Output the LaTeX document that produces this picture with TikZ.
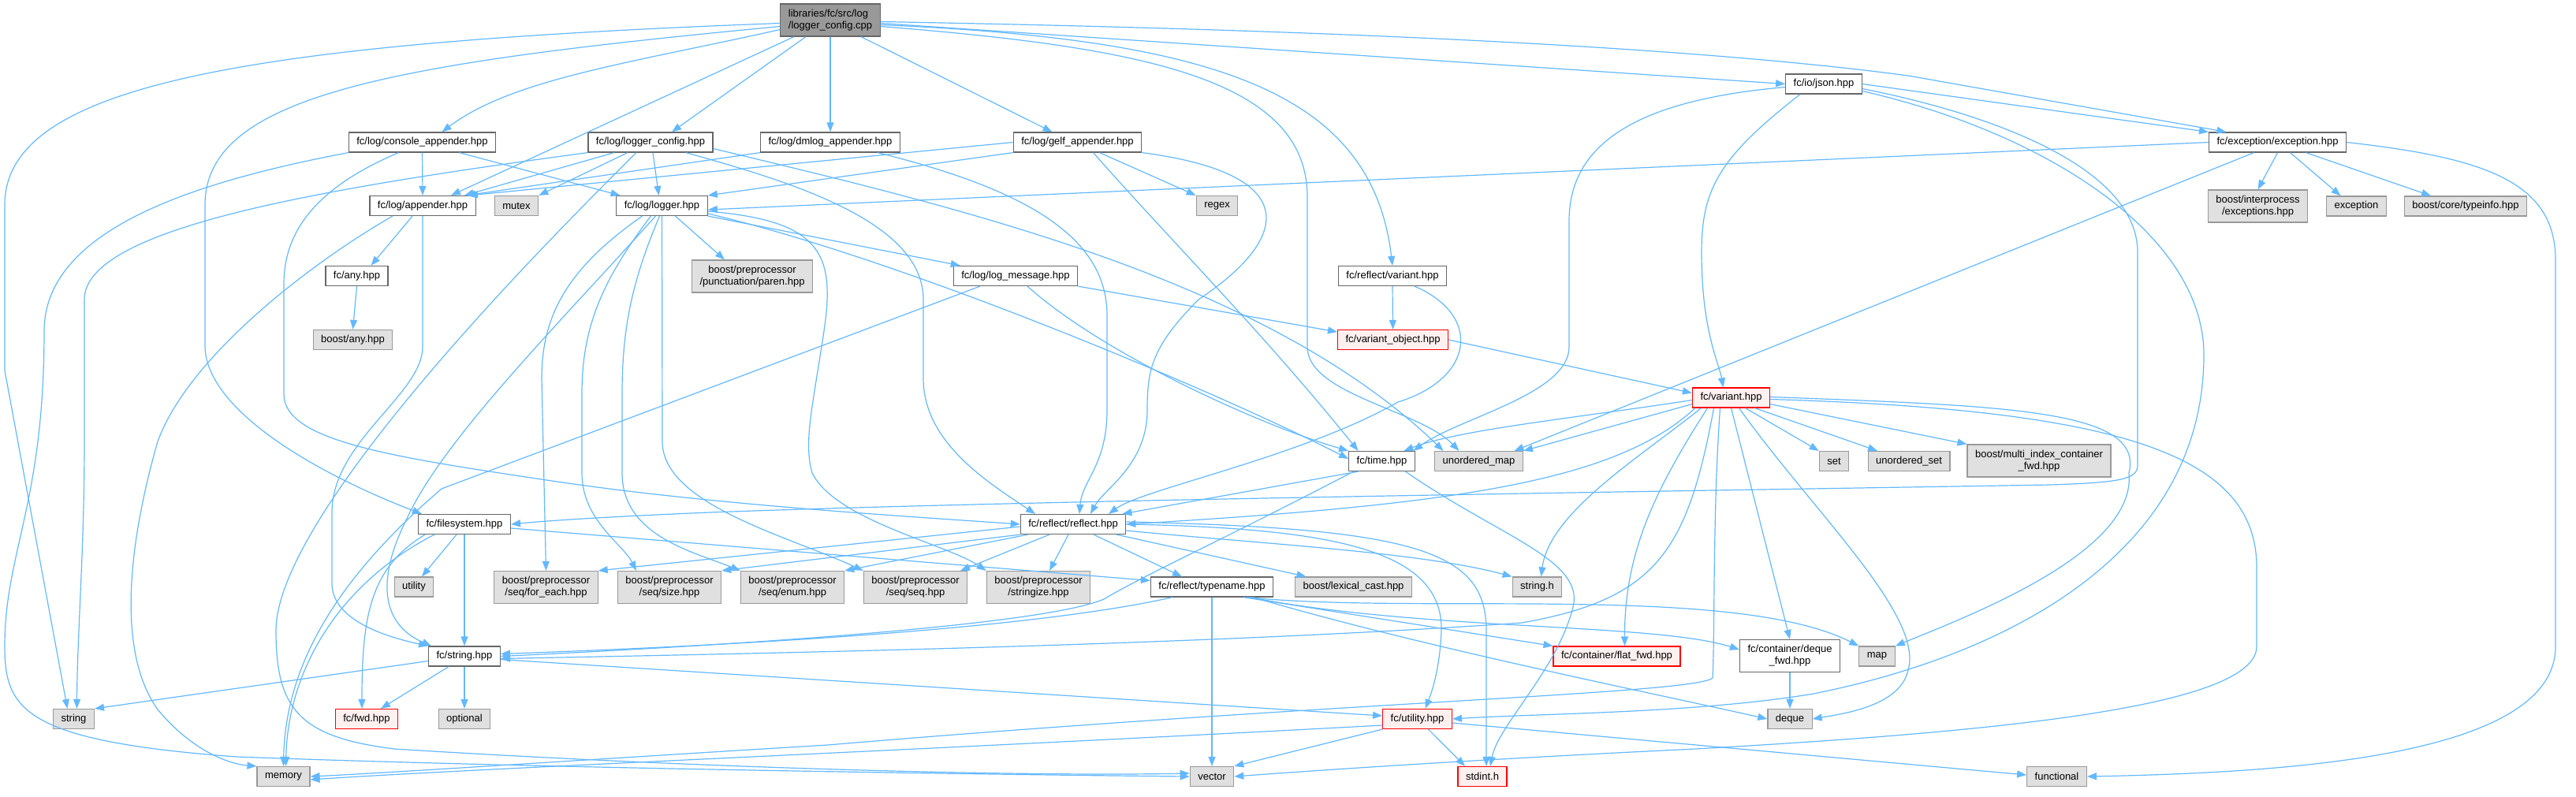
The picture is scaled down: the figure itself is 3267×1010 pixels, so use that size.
\documentclass[tikz,border=0pt]{standalone}
\usepackage{fontspec}
\setmainfont{Liberation Sans}
\usepackage{tikz}
\usetikzlibrary{arrows.meta,positioning}
\definecolor{edgeblue}{RGB}{99,184,255}
\definecolor{docline}{RGB}{102,102,102}
\definecolor{extline}{RGB}{153,153,153}
\definecolor{extfill}{RGB}{224,224,224}
\definecolor{truncfill}{RGB}{255,240,240}

\begin{document}
\begin{tikzpicture}[
    x=1pt, y=-1pt,
    fbox/.style={rectangle, line width=1.2pt, inner xsep=10pt, inner ysep=0pt, minimum height=25pt, align=center, font=\fontsize{13pt}{15pt}\selectfont},
    doc/.style={fbox, draw=docline, fill=white},
    ext/.style={fbox, draw=extline, fill=extfill},
    trunc/.style={fbox, draw=red, fill=truncfill},
    rootbox/.style={fbox, draw=docline, fill=extline, align=left},
    tall/.style={minimum height=41pt},
    arr/.style={-{Triangle[length=12pt,width=9pt]}, draw=edgeblue, line width=1.2pt}
  ]
  \useasboundingbox (0,0) rectangle (3267,1010);

  \node[rootbox, tall] (root) at (1053,25.5) {libraries/fc/src/log\\/logger\_config.cpp};
  \node[doc] (console) at (535.5,180.5) {fc/log/console\_appender.hpp};
  \node[doc] (logcfg) at (825,180.5) {fc/log/logger\_config.hpp};
  \node[doc] (dmlog) at (1053,180.5) {fc/log/dmlog\_appender.hpp};
  \node[doc] (gelf) at (1366.5,180.5) {fc/log/gelf\_appender.hpp};
  \node[doc] (json) at (2313,106.5) {fc/io/json.hpp};
  \node[doc] (exception) at (2888.5,180.5) {fc/exception/exception.hpp};
  \node[doc] (appender) at (536,261) {fc/log/appender.hpp};
  \node[ext] (stdmutex) at (655,261) {mutex};
  \node[doc] (logger) at (839.5,261) {fc/log/logger.hpp};
  \node[ext] (stdregex) at (1543.5,261) {regex};
  \node[ext, tall] (interproc) at (2863.5,261.5) {boost/interprocess\\/exceptions.hpp};
  \node[ext] (stdexcept) at (2988.5,261.5) {exception};
  \node[ext] (typeinfo) at (3127,261.5) {boost/core/typeinfo.hpp};
  \node[doc] (anyhpp) at (452.5,350) {fc/any.hpp};
  \node[ext, tall] (paren) at (954,350.5) {boost/preprocessor\\/punctuation/paren.hpp};
  \node[doc] (logmsg) at (1288,350) {fc/log/log\_message.hpp};
  \node[doc] (rvariant) at (1766,350) {fc/reflect/variant.hpp};
  \node[ext] (boostany) at (447.5,431) {boost/any.hpp};
  \node[trunc] (varobj) at (1766.5,431) {fc/variant\_object.hpp};
  \node[trunc] (variant) at (2195.5,504.5) {fc/variant.hpp};
  \node[doc] (fctime) at (1752.5,585) {fc/time.hpp};
  \node[ext] (umap) at (1875.5,585) {unordered\_map};
  \node[ext] (stdset) at (2326,585) {set};
  \node[ext] (uset) at (2421,585) {unordered\_set};
  \node[ext, tall] (multi) at (2586,584.5) {boost/multi\_index\_container\\\_fwd.hpp};
  \node[doc] (filesystem) at (589,665) {fc/filesystem.hpp};
  \node[doc] (reflect) at (1361,665) {fc/reflect/reflect.hpp};
  \node[ext] (stdutil) at (525,744.5) {utility};
  \node[ext, tall] (foreach) at (692.5,745) {boost/preprocessor\\/seq/for\_each.hpp};
  \node[ext, tall] (seqsize) at (849,745) {boost/preprocessor\\/seq/size.hpp};
  \node[ext, tall] (seqenum) at (1005,745) {boost/preprocessor\\/seq/enum.hpp};
  \node[ext, tall] (seqseq) at (1161,745) {boost/preprocessor\\/seq/seq.hpp};
  \node[ext, tall] (stringize) at (1317,745) {boost/preprocessor\\/stringize.hpp};
  \node[doc] (typenm) at (1537,744.5) {fc/reflect/typename.hpp};
  \node[ext] (lexcast) at (1716.5,744.5) {boost/lexical\_cast.hpp};
  \node[ext] (stringh) at (1949.5,744.5) {string.h};
  \node[doc] (fcstring) at (589,832.5) {fc/string.hpp};
  \node[trunc] (flatfwd) at (2050.5,832.5) {fc/container/flat\_fwd.hpp};
  \node[doc, tall] (dequefwd) at (2270,832) {fc/container/deque\\\_fwd.hpp};
  \node[ext] (stdmap) at (2380.5,832.5) {map};
  \node[ext] (stdstring) at (93.5,912) {string};
  \node[trunc] (fwd) at (465,912) {fc/fwd.hpp};
  \node[ext] (stdoptional) at (589,912) {optional};
  \node[trunc] (fcutil) at (1797.5,912) {fc/utility.hpp};
  \node[ext] (stddeque) at (2270,912) {deque};
  \node[ext] (stdmemory) at (359.5,985) {memory};
  \node[ext] (stdvector) at (1537,985) {vector};
  \node[trunc] (stdint) at (1880,985) {stdint.h};
  \node[ext] (stdfunc) at (2608.5,985) {functional};

  \draw[arr] ([yshift=-4pt]root.west) .. controls (300,55) and (6,110) .. (6,260) -- (6,470) -- ([xshift=-8pt]stdstring.north);
  \draw[arr] ([yshift=-8pt]root.west) .. controls (500,80) and (260,120) .. (260,260) -- (260,440) .. controls (262,520) and (400,600) .. ([xshift=5pt]filesystem.north west);
  \draw[arr] ([yshift=-12pt]root.west) .. controls (800,80) and (650,100) .. ([xshift=25pt]console.north);
  \draw[arr] ([xshift=-46pt]root.south) -- ([xshift=36pt]appender.north);
  \draw[arr] ([xshift=-31pt]root.south) -- ([xshift=27pt]logcfg.north);
  \draw[arr] (root.south) -- (dmlog.north);
  \draw[arr] ([xshift=39pt]root.south) -- ([xshift=-32pt]gelf.north);
  \draw[arr] ([yshift=-8pt]root.east) .. controls (1450,60) and (1658,100) .. (1658,250) -- (1658,440) .. controls (1658,500) and (1800,520) .. ([xshift=-25pt]umap.north);
  \draw[arr] ([yshift=-6pt]root.east) .. controls (1550,50) and (1740,120) .. (rvariant.north);
  \draw[arr] ([yshift=-4pt]root.east) -- (json.west);
  \draw[arr] ([yshift=-2pt]root.east) .. controls (1700,38) and (2150,60) .. (2420,96) -- ([xshift=-65pt]exception.north);

  \draw[arr] (console.south) -- (appender.north);
  \draw[arr] ([xshift=47pt]console.south) -- ([xshift=-53pt]logger.north);
  \draw[arr] (console.south west) .. controls (250,230) and (56,290) .. (56,420) .. controls (56,640) and (6,700) .. (6,820) .. controls (6,900) and (30,940) .. (300,960) .. controls (700,975) and (1300,983) .. (stdvector.west);
  \draw[arr] ([xshift=-30pt]console.south) .. controls (420,230) and (360,280) .. (360,360) -- (360,500) .. controls (360,560) and (500,580) .. (700,610) .. controls (900,640) and (1150,655) .. (reflect.west);

  \draw[arr] (logcfg.south west) .. controls (400,240) and (107,290) .. (107,380) -- (107,560) .. controls (107,700) and (98,800) .. ([xshift=4pt]stdstring.north);
  \draw[arr] ([xshift=-46pt]logcfg.south) -- ([xshift=53pt]appender.north);
  \draw[arr] ([xshift=-29pt]logcfg.south) -- (stdmutex.north east);
  \draw[arr] ([xshift=-18pt]logcfg.south) .. controls (700,300) and (350,650) .. (350,800) .. controls (350,900) and (380,935) .. (500,950) .. controls (900,975) and (1300,985) .. ([yshift=4pt]stdvector.west);
  \draw[arr] ([xshift=3pt]logcfg.south) -- ([xshift=-4pt]logger.north);
  \draw[arr] ([xshift=45pt]logcfg.south) .. controls (1000,230) and (1171,280) .. (1171,380) -- (1171,480) .. controls (1171,560) and (1250,610) .. ([xshift=-48pt]reflect.north);
  \draw[arr] ([yshift=-8pt]logcfg.east) .. controls (1200,260) and (1600,350) .. ([xshift=-45pt]umap.north);

  \draw[arr] (dmlog.south west) -- ([xshift=55pt]appender.north);
  \draw[arr] ([xshift=60pt]dmlog.south) .. controls (1300,240) and (1404,300) .. (1404,400) -- (1404,520) .. controls (1404,590) and (1372,610) .. ([xshift=8pt]reflect.north);

  \draw[arr] (gelf.west) -- ([xshift=58pt]appender.north);
  \draw[arr] (gelf.south west) -- (logger.north east);
  \draw[arr] ([xshift=28pt]gelf.south) -- (stdregex.north west);
  \draw[arr] ([xshift=20pt]gelf.south) .. controls (1480,300) and (1600,420) .. ([xshift=-30pt]fctime.north);
  \draw[arr] (gelf.south east) .. controls (1650,220) and (1640,300) .. (1520,380) .. controls (1460,440) and (1455,470) .. (1455,520) .. controls (1455,590) and (1400,620) .. ([xshift=22pt]reflect.north);

  \draw[arr] (json.east) -- (exception.north west);
  \draw[arr] ([xshift=-30pt]json.south) .. controls (2180,200) and (2158,240) .. (2158,320) .. controls (2158,420) and (2180,460) .. ([xshift=-10pt]variant.north);
  \draw[arr] ([yshift=-4pt]json.west) .. controls (2100,125) and (1990,170) .. (1990,280) -- (1990,440) .. controls (1990,500) and (1850,530) .. ([xshift=40pt]fctime.north);
  \draw[arr] ([yshift=-6pt]json.east) .. controls (2550,150) and (2711,220) .. (2711,320) -- (2711,590) .. controls (2711,608) and (2690,612) .. (2600,615) .. controls (2000,625) and (1300,635) .. (900,650) .. controls (780,655) and (700,660) .. (filesystem.east);
  \draw[arr] ([yshift=-9pt]json.east) .. controls (2600,170) and (2795,300) .. (2795,450) .. controls (2795,700) and (2550,830) .. (2300,880) .. controls (2150,905) and (1950,905) .. (fcutil.east);

  \draw[arr] (exception.west) -- ([yshift=-5pt]logger.east);
  \draw[arr] ([xshift=-30pt]exception.south) -- ([xshift=45pt]umap.north);
  \draw[arr] (exception.south) -- (interproc.north);
  \draw[arr] ([xshift=16pt]exception.south) -- ([xshift=-20pt]stdexcept.north);
  \draw[arr] ([xshift=36pt]exception.south) -- ([xshift=-44pt]typeinfo.north);
  \draw[arr] (exception.east) .. controls (3150,200) and (3241,230) .. (3241,330) -- (3241,820) .. controls (3241,960) and (2900,980) .. (stdfunc.east);

  \draw[arr] (rvariant.south) -- (varobj.north);
  \draw[arr] ([xshift=28pt]rvariant.south) .. controls (1880,400) and (1870,480) .. (1773,510) .. controls (1650,580) and (1450,620) .. ([xshift=45pt]reflect.north);

  \draw[arr] ([xshift=-13pt]appender.south) -- ([xshift=18pt]anyhpp.north);
  \draw[arr] ([xshift=-38pt]appender.south) .. controls (400,330) and (240,450) .. (200,560) .. controls (160,700) and (150,830) .. (200,900) .. controls (250,960) and (300,970) .. (stdmemory.north west);
  \draw[arr] (appender.south) -- (536,440) .. controls (536,500) and (421,560) .. (421,650) -- (421,740) .. controls (421,790) and (500,810) .. (fcstring.north west);
  \draw[arr] (anyhpp.south) -- (boostany.north);

  \draw[arr] ([xshift=17pt]logger.south) -- ([xshift=-35pt]paren.north);
  \draw[arr] (logger.south east) -- ([xshift=9pt]logmsg.north west);
  \draw[arr] ([yshift=-10pt]logger.east) .. controls (1150,330) and (1550,500) .. ([yshift=3pt]fctime.west);
  \draw[arr] ([yshift=-7pt]logger.east) .. controls (1040,280) and (1060,320) .. (1045,420) .. controls (1030,520) and (1019,560) .. (1030,600) .. controls (1060,660) and (1200,690) .. (stringize.north west);
  \draw[arr] ([xshift=-25pt]logger.south) .. controls (720,340) and (687,400) .. (687,480) -- (foreach.north);
  \draw[arr] ([xshift=-14pt]logger.south) .. controls (760,360) and (738,420) .. (738,500) -- (738,600) .. controls (738,660) and (790,690) .. ([xshift=-42pt]seqsize.north);
  \draw[arr] ([xshift=-3pt]logger.south) .. controls (800,360) and (789,420) .. (789,500) -- (789,600) .. controls (789,680) and (880,700) .. (seqenum.north west);
  \draw[arr] (logger.south) -- (840,560) .. controls (840,640) and (1000,680) .. (seqseq.north west);
  \draw[arr] ([xshift=-8pt]logger.south) .. controls (700,420) and (560,560) .. (515,660) .. controls (480,730) and (480,790) .. ([xshift=-42pt]fcstring.north);

  \draw[arr] (logmsg.south east) -- ([yshift=10pt]varobj.west);
  \draw[arr] ([xshift=15pt]logmsg.south) .. controls (1400,450) and (1600,540) .. (fctime.north west);
  \draw[arr] ([xshift=-45pt]logmsg.south) -- (560,620) .. controls (420,740) and (362,850) .. (stdmemory.north);

  \draw[arr] (varobj.east) -- ([yshift=6pt]variant.west);

  \draw[arr] ([yshift=-3pt]variant.west) .. controls (2000,530) and (1850,545) .. ([xshift=28pt]fctime.north);
  \draw[arr] ([yshift=5pt]variant.south west) -- (umap.north east);
  \draw[arr] ([xshift=4pt]variant.south west) .. controls (2050,610) and (1850,640) .. (reflect.east);
  \draw[arr] ([xshift=-38pt]variant.south) .. controls (2080,580) and (1965,650) .. ([xshift=5pt]stringh.north);
  \draw[arr] ([xshift=-30pt]variant.south) .. controls (2100,620) and (2060,700) .. ([xshift=10pt]flatfwd.north);
  \draw[arr] ([xshift=-22pt]variant.south) .. controls (2140,700) and (2100,760) .. (1930,790) .. controls (1500,820) and (900,830) .. ([yshift=-3pt]fcstring.east);
  \draw[arr] ([xshift=-14pt]variant.south) .. controls (2172,650) and (2175,800) .. (2172,860) .. controls (2150,880) and (1700,890) .. (1050,945) .. controls (800,960) and (500,980) .. (stdmemory.east);
  \draw[arr] (variant.south) -- (dequefwd.north);
  \draw[arr] ([xshift=10pt]variant.south) .. controls (2300,650) and (2440,780) .. (2420,850) .. controls (2410,895) and (2340,905) .. (stddeque.east);
  \draw[arr] ([xshift=18pt]variant.south) -- (stdset.north west);
  \draw[arr] ([xshift=30pt]variant.south) -- ([xshift=-40pt]uset.north);
  \draw[arr] ([yshift=5pt]variant.south east) -- (multi.north west);
  \draw[arr] ([yshift=1pt]variant.east) .. controls (2550,515) and (2720,520) .. (2700,600) .. controls (2710,700) and (2500,780) .. (stdmap.north east);
  \draw[arr] ([yshift=-2pt]variant.east) .. controls (2700,520) and (2862,580) .. (2862,720) -- (2862,820) .. controls (2862,900) and (2500,930) .. (2150,950) .. controls (1900,962) and (1700,975) .. (stdvector.east);

  \draw[arr] (typenm.south) -- (stdvector.north);
  \draw[arr] ([xshift=-50pt]typenm.south) .. controls (1300,800) and (900,820) .. ([yshift=3pt]fcstring.east);
  \draw[arr] ([xshift=40pt]typenm.south) -- (flatfwd.north west);
  \draw[arr] ([xshift=44pt]typenm.south) .. controls (1800,780) and (2200,740) .. (stdmap.north west);
  \draw[arr] ([xshift=48pt]typenm.south) .. controls (1800,800) and (2100,790) .. ([yshift=8pt]dequefwd.west);
  \draw[arr] ([xshift=52pt]typenm.south) .. controls (1800,820) and (2100,880) .. (stddeque.west);

  \draw[arr] ([xshift=-30pt]fctime.south) -- ([xshift=-5pt]reflect.north east);
  \draw[arr] ([xshift=-36pt]fctime.south) .. controls (1560,680) and (1450,730) .. (1400,760) .. controls (1330,790) and (1000,815) .. (fcstring.east);
  \draw[arr] ([xshift=30pt]fctime.south) .. controls (1900,680) and (2010,710) .. (1995,770) .. controls (1975,850) and (1900,920) .. ([xshift=10pt]stdint.north);

  \draw[arr] ([yshift=-3pt]reflect.west) -- (foreach.north east);
  \draw[arr] (reflect.south west) -- (seqsize.north east);
  \draw[arr] ([xshift=10pt]reflect.south west) -- (seqenum.north east);
  \draw[arr] ([xshift=-30pt]reflect.south) -- ([xshift=57pt]seqseq.north);
  \draw[arr] ([xshift=-6pt]reflect.south) -- ([xshift=14pt]stringize.north);
  \draw[arr] ([xshift=26pt]reflect.south) -- ([xshift=-38pt]typenm.north);
  \draw[arr] ([xshift=55pt]reflect.south) -- ([xshift=-60pt]lexcast.north);
  \draw[arr] ([yshift=-8pt]reflect.east) .. controls (1600,690) and (1800,700) .. (stringh.north west);
  \draw[arr] (reflect.east) .. controls (1700,670) and (1830,700) .. (1828,800) .. controls (1826,850) and (1815,880) .. ([xshift=10pt]fcutil.north);
  \draw[arr] ([yshift=3pt]reflect.east) .. controls (1800,670) and (1885,700) .. (1885,800) -- ([xshift=5pt]stdint.north);

  \draw[arr] ([xshift=-10pt]filesystem.south) -- ([xshift=10pt]stdutil.north);
  \draw[arr] (filesystem.south) -- (fcstring.north);
  \draw[arr] ([xshift=-38pt]filesystem.south) .. controls (430,740) and (365,850) .. ([xshift=3pt]stdmemory.north);
  \draw[arr] ([xshift=-50pt]filesystem.south) .. controls (470,720) and (459,780) .. ([xshift=-6pt]fwd.north);
  \draw[arr] ([yshift=-5pt]filesystem.east) -- ([yshift=8pt]typenm.west);

  \draw[arr] ([yshift=-6pt]fcstring.west) -- (stdstring.north east);
  \draw[arr] ([xshift=-20pt]fcstring.south) -- ([xshift=18pt]fwd.north);
  \draw[arr] (fcstring.south) -- (stdoptional.north);
  \draw[arr] ([yshift=-4pt]fcstring.east) -- ([yshift=4pt]fcutil.west);

  \draw[arr] (fcutil.south west) -- (stdvector.north east);
  \draw[arr] ([xshift=14pt]fcutil.south) -- ([xshift=-22pt]stdint.north);
  \draw[arr] ([yshift=-8pt]fcutil.west) .. controls (1200,950) and (600,975) .. ([yshift=-4pt]stdmemory.east);
  \draw[arr] ([yshift=-5pt]fcutil.east) -- ([yshift=2pt]stdfunc.west);

  \draw[arr] (dequefwd.south) -- (stddeque.north);
\end{tikzpicture}
\end{document}
